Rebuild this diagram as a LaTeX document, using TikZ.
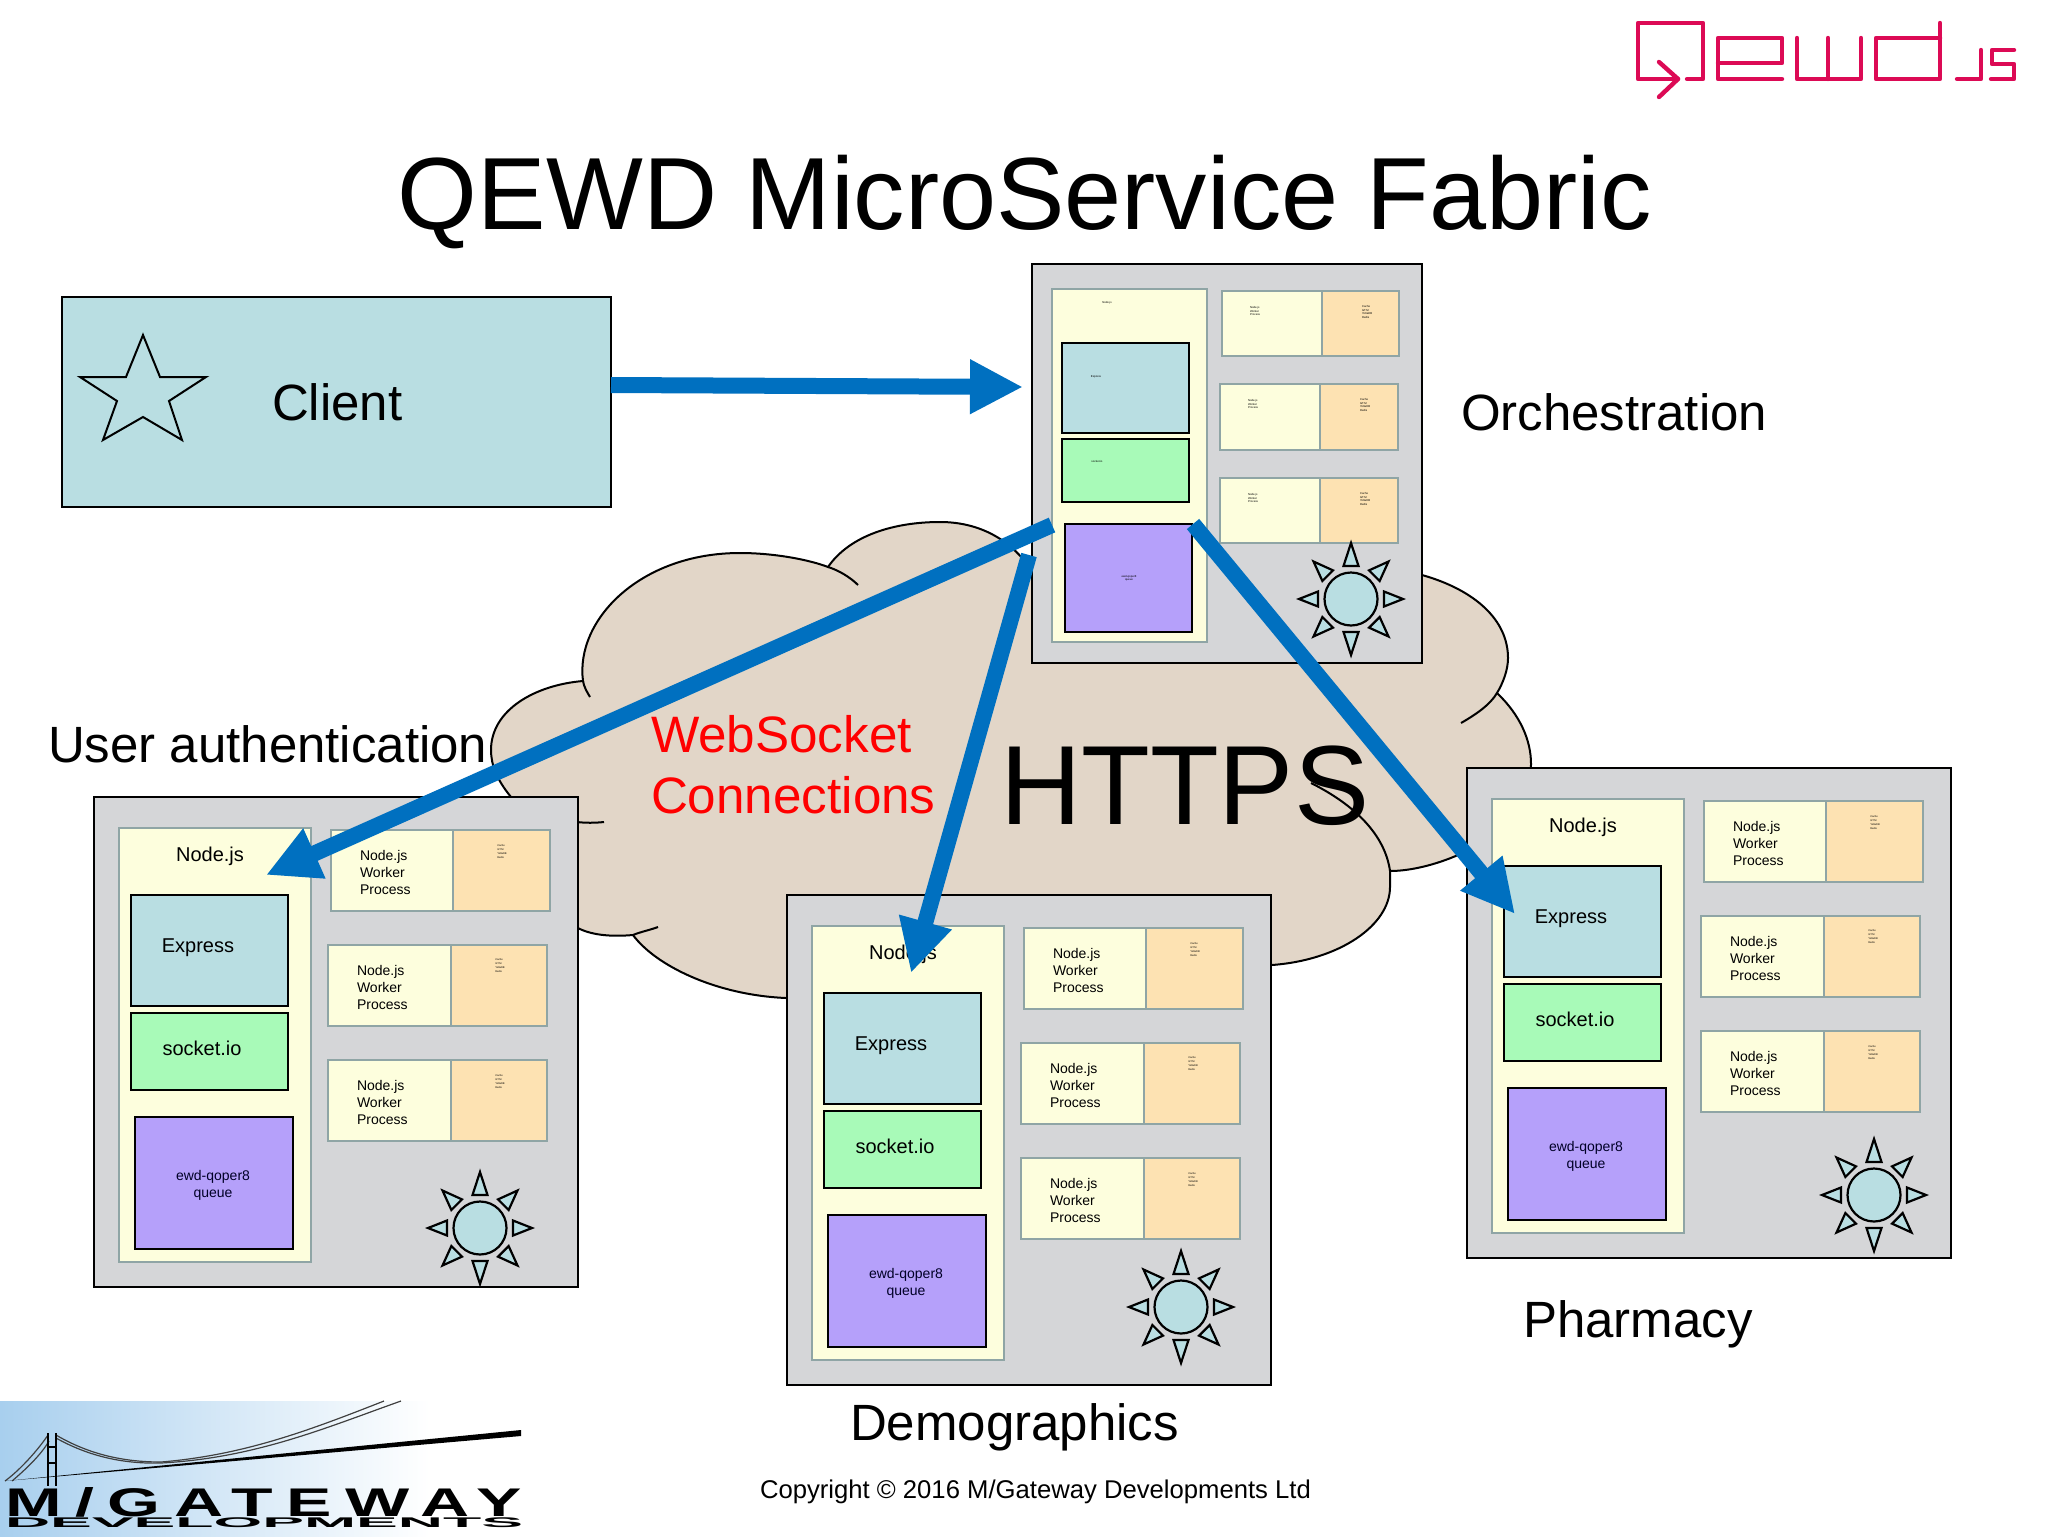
\documentclass[tikz,border=0pt]{standalone}
\usepackage{fontspec}
\usepackage{graphicx}
\setmainfont{Liberation Sans}
\usetikzlibrary{arrows.meta}
\definecolor{panelgrey}{HTML}{D5D6D8}
\definecolor{paleyellow}{HTML}{FDFEDD}
\definecolor{paleorange}{HTML}{FDE2B2}
\definecolor{paleblue}{HTML}{B9DEE2}
\definecolor{palegreen2}{HTML}{A8FAB8}
\definecolor{palepurple}{HTML}{B5A0FA}
\definecolor{tealborder}{HTML}{8FA5A5}
\definecolor{cloudfill}{HTML}{E2D6C8}
\definecolor{arrowblue}{HTML}{0070C0}
\definecolor{qewdpink}{HTML}{DC0A55}
\definecolor{logoblue}{HTML}{A8CFEE}
\tikzset{
  panelbox/.style={draw=black,line width=1.1pt,fill=panelgrey},
  nodebox/.style={draw=tealborder,line width=1.4pt,fill=paleyellow},
  workerbox/.style={draw=tealborder,line width=1.4pt,fill=paleyellow},
  cachebox/.style={draw=tealborder,line width=1.4pt,fill=paleorange},
  expressbox/.style={draw=black,line width=1.1pt,fill=paleblue},
  socketbox/.style={draw=black,line width=1.1pt,fill=palegreen2},
  queuebox/.style={draw=black,line width=1.1pt,fill=palepurple},
  clientbox/.style={draw=black,line width=1pt,fill=paleblue},
  sunpart/.style={draw=black,line width=1.1pt,fill=paleblue,line join=miter},
  cloudline/.style={draw=black,line width=1pt},
  bluearrow/.style={draw=arrowblue,line width=8pt,-{Triangle[length=26.5pt,width=25.5pt,fill=arrowblue]}},
  txt/.style={inner sep=0,outer sep=0,text=black},
  qewdline/.style={draw=qewdpink,line width=2.2pt,line cap=round,line join=round},
  bigfont/.style={font=\fontsize{25.5}{30}\selectfont},
  redfont/.style={font=\fontsize{25.6}{30}\selectfont},
  midfont/.style={font=\fontsize{10}{12}\selectfont},
  smallfont/.style={font=\fontsize{7}{8.5}\selectfont,align=left},
  cachefont/.style={font=\fontsize{1.3}{2}\selectfont,align=left},
  tinyfont/.style={font=\fontsize{1.4}{1.7}\selectfont,align=left},
}
\newcommand\bx[6]{%
  \pgfmathsetmacro\bw{(#5-#3)*0.5}\pgfmathsetmacro\bh{(#6-#4)*0.5}%
  \node[#2,anchor=north west,inner sep=0pt,outer sep=0pt,minimum width=\bw pt,minimum height=\bh pt] (#1) at (#3,#4) {};}
\newcommand\sunicon[3]{%
  \foreach \a/\r in {0/52,45/53,90/56,135/53,180/52,225/53,270/56,315/53}{%
    \draw[sunpart,shift={(#2,#3)},rotate=\a] (\r,0) -- (33,7.5) -- (33,-7.5) -- cycle;}
  \node[sunpart,circle,inner sep=0pt,minimum size=26.5pt] (#1) at (#2,#3) {};}
\newcommand\fullpanel[5]{%
\begin{scope}[shift={(#2,#3)}]
  \bx{#1}{panelbox}{94}{797}{578}{1287}
  \bx{#1-node}{nodebox}{119}{828}{311}{1262}
  \bx{#1-express}{expressbox}{131}{895}{288}{1006}
  \bx{#1-socket}{socketbox}{131}{1013}{288}{1090}
  \bx{#1-queue}{queuebox}{135}{1117}{293}{1249}
  \node[txt,midfont] (#1-nodet) at (210,856.5) {Node.js};
  \node[txt,midfont] (#1-expresst) at (198,947.5) {Express};
  \node[txt,midfont] (#1-sockett) at (202,1048) {socket.io};
  \node[txt,smallfont,align=center,text=black!85!blue] (#1-queuet) at (213,1185) {ewd-qoper8\\queue};
  \bx{#1-w1}{workerbox}{331}{830}{453}{911}
  \bx{#1-c1}{cachebox}{453}{830}{550}{911}
  \bx{#1-w2}{workerbox}{328}{945}{451}{1026}
  \bx{#1-c2}{cachebox}{451}{945}{547}{1026}
  \bx{#1-w3}{workerbox}{328}{1060}{451}{1141}
  \bx{#1-c3}{cachebox}{451}{1060}{547}{1141}
  \node[txt,smallfont,anchor=west] (#1-w1t) at (360,872) {Node.js\\Worker\\Process};
  \node[txt,smallfont,anchor=west] (#1-w2t) at (357,987) {Node.js\\Worker\\Process};
  \node[txt,smallfont,anchor=west] (#1-w3t) at (357,1102) {Node.js\\Worker\\Process};
  \node[txt,cachefont] (#1-c1t) at (502,852) {Cache\\GT.M\\YottaDB\\Redis};
  \node[txt,cachefont] (#1-c2t) at (500,966) {Cache\\GT.M\\YottaDB\\Redis};
  \node[txt,cachefont] (#1-c3t) at (500,1082) {Cache\\GT.M\\YottaDB\\Redis};
  \sunicon{#1-sun}{#4}{#5}
\end{scope}}
\begin{document}
\begin{tikzpicture}[x=0.5pt,y=-0.5pt]
\useasboundingbox (0,0) rectangle (2048,1536);
\fill[white] (0,0) rectangle (2048,1536);

% Qewd logo
\draw[qewdline] (1687,79) -- (1703,79) -- (1703,23) -- (1638,23) -- (1638,79) -- (1678,79);
\draw[qewdline] (1659,62) -- (1678,79) -- (1659,97);
\draw[qewdline] (1782,79) -- (1718,79) -- (1718,38) -- (1782,38) -- (1782,63) -- (1718,63);
\draw[qewdline] (1797,38) -- (1797,79) -- (1861,79) -- (1861,38);
\draw[qewdline] (1828,38) -- (1828,79);
\draw[qewdline] (1940,23) -- (1940,79) -- (1876,79) -- (1876,38) -- (1940,38);
\draw[qewdline] (1957,79) -- (1981,79) -- (1981,50);
\draw[qewdline] (2014,50) -- (1992,50) -- (1992,64) -- (2014,64) -- (2014,79) -- (1991,79);

% Title
\node[txt,anchor=base,font=\fontsize{51.3}{60}\selectfont] (title) at (1025,229.5) {QEWD MicroService Fabric};

% Client
\bx{client}{clientbox}{62}{297}{611}{507}
\draw[black,line width=1pt,fill=paleblue,line join=miter] (143,335) -- (160,377) -- (206,377) -- (169,401) -- (182,440) -- (143,417) -- (103,440) -- (117,401) -- (80,377) -- (126,377) -- cycle;
\node[txt,bigfont,anchor=base west] (clientt) at (272,420) {Client};

% Cloud
\path[fill=cloudfill,cloudline]
  (511,797) .. controls (497,780) and (491,765) .. (491,750)
  .. controls (491,710) and (535,685) .. (583,681)
  .. controls (575,620) and (640,553) .. (740,553)
  .. controls (775,553) and (810,560) .. (828,567)
  .. controls (850,535) and (895,522) .. (940,522)
  .. controls (985,522) and (1015,545) .. (1031,570)
  -- (1422,575)
  .. controls (1475,590) and (1508,620) .. (1508,658)
  .. controls (1508,670) and (1503,683) .. (1497,693)
  .. controls (1520,715) and (1531,740) .. (1531,764)
  .. controls (1531,800) and (1505,830) .. (1458,855)
  .. controls (1435,865) and (1410,871) .. (1390,871)
  -- (1390,887)
  .. controls (1390,925) and (1340,960) .. (1272,965)
  -- (786,998)
  .. controls (715,995) and (655,965) .. (633,935)
  .. controls (610,937) and (590,935) .. (576,927)
  -- (540,850) -- cycle;
\draw[cloudline] (583,681) .. controls (584,687) and (587,692) .. (590,697);
\draw[cloudline] (828,567) .. controls (838,570) and (850,577) .. (858,585);
\draw[cloudline] (1497,693) .. controls (1490,705) and (1475,715) .. (1461,723);
\draw[cloudline] (1311,783) .. controls (1355,805) and (1385,835) .. (1390,871);
\draw[cloudline] (658,927) .. controls (650,930) and (640,932) .. (633,935);
\draw[cloudline] (577,822) .. controls (585,823) and (595,823) .. (604,822);

% Cloud text
\node[txt,anchor=base west,redfont,text=red] (ws1) at (651,752) {WebSocket};
\node[txt,anchor=base west,redfont,text=red] (ws2) at (651,813) {Connections};
\node[txt,anchor=base west,font=\fontsize{56.3}{60}\selectfont] (https) at (1000,824) {HTTPS};

% Orchestration panel
\bx{orch}{panelbox}{1032}{264}{1422}{663}
\bx{orch-node}{nodebox}{1052}{289}{1207}{642}
\bx{orch-express}{expressbox}{1062}{343}{1189}{433}
\bx{orch-socket}{socketbox}{1062}{439}{1189}{502}
\bx{orch-queue}{queuebox}{1065}{524}{1192}{632}
\node[txt,tinyfont] (orch-nodet) at (1107,303) {Node.js};
\node[txt,tinyfont] (orch-expresst) at (1096,377) {Express};
\node[txt,tinyfont] (orch-sockett) at (1097,461) {socket.io};
\node[txt,tinyfont,align=center] (orch-queuet) at (1129,578) {ewd-qoper8\\queue};
\bx{orch-w1}{workerbox}{1222}{291}{1322}{356}
\bx{orch-c1}{cachebox}{1322}{291}{1399}{356}
\bx{orch-w2}{workerbox}{1220}{384}{1320}{450}
\bx{orch-c2}{cachebox}{1320}{384}{1398}{450}
\bx{orch-w3}{workerbox}{1220}{478}{1320}{543}
\bx{orch-c3}{cachebox}{1320}{478}{1398}{543}
\node[txt,tinyfont,anchor=west] (orch-w1t) at (1250,311) {Node.js\\Worker\\Process};
\node[txt,tinyfont,anchor=west] (orch-w2t) at (1248,404) {Node.js\\Worker\\Process};
\node[txt,tinyfont,anchor=west] (orch-w3t) at (1248,498) {Node.js\\Worker\\Process};
\node[txt,tinyfont,anchor=west] (orch-c1t) at (1362,312) {Cache\\GT.M\\YottaDB\\Redis};
\node[txt,tinyfont,anchor=west] (orch-c2t) at (1360,405) {Cache\\GT.M\\YottaDB\\Redis};
\node[txt,tinyfont,anchor=west] (orch-c3t) at (1360,499) {Cache\\GT.M\\YottaDB\\Redis};
\sunicon{orch-sun}{1351}{599}

% Full-size panels
\fullpanel{auth}{0}{0}{480}{1228}
\fullpanel{demo}{693}{98}{488}{1209}
\fullpanel{pharm}{1373}{-29}{501}{1224}

% Labels
\node[txt,bigfont,anchor=base west] (orchl) at (1461,430.5) {Orchestration};
\node[txt,bigfont,anchor=base west] (authl) at (48,762.5) {User authentication};
\node[txt,bigfont,anchor=base west] (pharml) at (1523,1337) {Pharmacy};
\node[txt,bigfont,anchor=base west] (demol) at (850,1440) {Demographics};
\node[txt,anchor=base west,font=\fontsize{12.83}{16}\selectfont] (copy) at (760,1498) {Copyright © 2016 M/Gateway Developments Ltd};

% Arrows
\coordinate (orch-in) at (1023,387);
\coordinate (orch-outa) at (1052,525);
\coordinate (orch-outb) at (1029,555);
\coordinate (orch-outc) at (1193,524);
\coordinate (auth-in) at (266,875);
\coordinate (demo-in) at (911,973);
\coordinate (pharm-in) at (1515,914);
\draw[bluearrow] ([yshift=8.5pt]client.east) -- (orch-in);
\draw[bluearrow] (orch-outa) -- (auth-in);
\draw[bluearrow] (orch-outb) -- (demo-in);
\draw[bluearrow] (orch-outc) -- (pharm-in);

% M/Gateway logo
\shade[left color=logoblue,right color=white] (0,1401) rectangle (430,1536);
\draw[black!75,line width=0.6pt] (5,1481) .. controls (20,1470) and (38,1450) .. (48,1435);
\draw[black!75,line width=0.6pt] (12,1481) .. controls (25,1470) and (41,1455) .. (49,1441);
\draw[black!75,line width=0.6pt] (56,1435) .. controls (90,1455) and (125,1462) .. (161,1462) .. controls (245,1455) and (310,1430) .. (384,1401);
\draw[black!75,line width=0.6pt] (56,1438) .. controls (90,1457) and (125,1464) .. (161,1463) .. controls (255,1458) and (325,1428) .. (401,1401);
\draw[black,line width=0.8pt] (48,1433) -- (48,1486);
\draw[black,line width=0.8pt] (56,1433) -- (56,1486);
\draw[black,line width=0.6pt] (48,1447) -- (56,1447);
\draw[black,line width=0.6pt] (48,1463) -- (56,1463);
\fill[black] (5,1481) -- (521,1430) -- (521,1436) -- cycle;
\node[txt,anchor=base west,font=\fontsize{20}{24}\selectfont\bfseries] (mg1) at (5,1516) {\addfontfeature{LetterSpace=20}\smash{\scalebox{1.7}[1]{M/GATEWAY}}};
\node[txt,anchor=base west,font=\fontsize{7}{8}\selectfont\bfseries] (mg2) at (5,1527) {\smash{\scalebox{4.47}[1]{DEVELOPMENTS}}};
\end{tikzpicture}
\end{document}
